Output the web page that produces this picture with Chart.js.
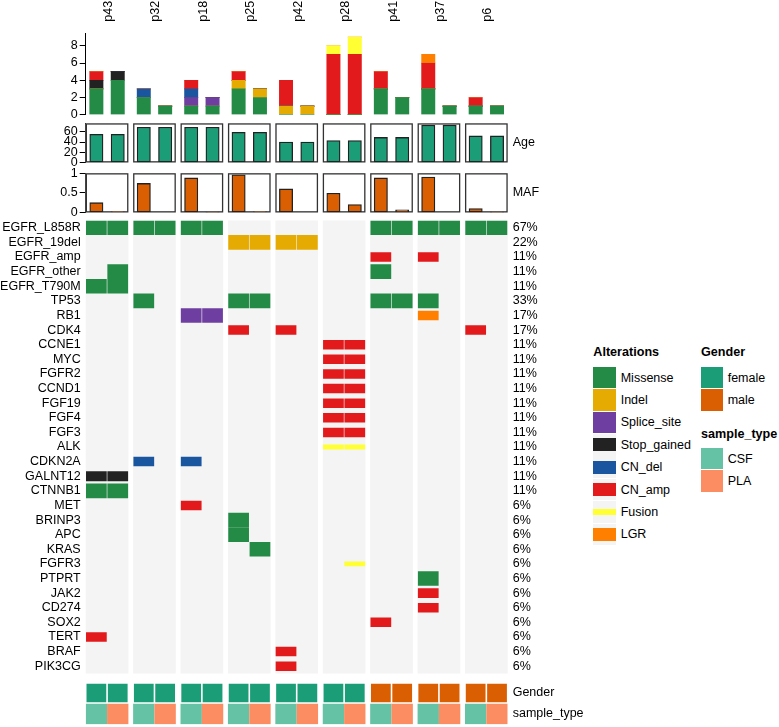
<!DOCTYPE html>
<html>
<head>
<meta charset="utf-8">
<script src="https://cdn.jsdelivr.net/npm/chart.js@4.4.1/dist/chart.umd.min.js"></script>
<style>
  html, body { margin: 0; padding: 0; background: #fff; overflow: hidden; }
  #wrap { position: relative; width: 779px; height: 727px; overflow: hidden;
          font-family: "Liberation Sans", Arial, sans-serif; color: #000; }
  canvas.panel { position: absolute; left: 0; }
  .lg { position: absolute; white-space: nowrap; line-height: 16px; font-size: 12.5px; }
  .lg.title { font-weight: bold; font-size: 12.6px; }
  .sw { position: absolute; }
</style>
</head>
<body>
<div id="wrap">
  <canvas id="countChart" class="panel" width="590" height="126" style="top:0px"></canvas>
  <canvas id="ageChart" class="panel" width="590" height="65" style="top:110px"></canvas>
  <canvas id="mafChart" class="panel" width="590" height="65" style="top:160px"></canvas>
  <canvas id="oncoChart" class="panel" width="590" height="478" style="top:208.4px"></canvas>
  <canvas id="annoChart" class="panel" width="590" height="67" style="top:669.5px"></canvas>
  <div id="legend"></div>
</div>
<script>
// ---- data ----
const patients = ["p43", "p32", "p18", "p25", "p42", "p28", "p41", "p37", "p6"];
const sampleTypes = ["CSF", "PLA"];
const age = [55, 69, 69, 59, 40, 43, 49, 73, 52];
const gender = ["female", "female", "female", "female", "female", "female", "male", "male", "male"];
// one value per sample: p43 CSF, p43 PLA, p32 CSF, ...
const maf = [0.25, 0.02, 0.74, 0, 0.88, 0.01, 0.96, 0.02, 0.6, 0, 0.49, 0.2, 0.88, 0.07, 0.9, 0, 0.1, 0.01];

const genes = ["EGFR_L858R", "EGFR_19del", "EGFR_amp", "EGFR_other", "EGFR_T790M", "TP53", "RB1", "CDK4",
  "CCNE1", "MYC", "FGFR2", "CCND1", "FGF19", "FGF4", "FGF3", "ALK", "CDKN2A", "GALNT12", "CTNNB1",
  "MET", "BRINP3", "APC", "KRAS", "FGFR3", "PTPRT", "JAK2", "CD274", "SOX2", "TERT", "BRAF", "PIK3CG"];
const genePct = ["67%", "22%", "11%", "11%", "11%", "33%", "17%", "17%",
  "11%", "11%", "11%", "11%", "11%", "11%", "11%", "11%", "11%", "11%", "11%",
  "6%", "6%", "6%", "6%", "6%", "6%", "6%", "6%", "6%", "6%", "6%", "6%"];

const altTypes = ["Missense", "Indel", "Splice_site", "Stop_gained", "CN_del", "CN_amp", "Fusion", "LGR"];
const altCodes = ["M", "I", "S", "X", "D", "A", "F", "L"];
// one string per gene, one character per sample (same order as maf)
const altMatrix = [
  "MMMMMM......MMMMMM",
  "......IIII........",
  "............A.A...",
  ".M..........M.....",
  "MM................",
  "..M...MM....MMM...",
  "....SS........L...",
  "......A.A.......A.",
  "..........AA......",
  "..........AA......",
  "..........AA......",
  "..........AA......",
  "..........AA......",
  "..........AA......",
  "..........AA......",
  "..........FF......",
  "..D.D.............",
  "XX................",
  "MM................",
  "....A.............",
  "......M...........",
  "......M...........",
  ".......M..........",
  "...........F......",
  "..............M...",
  "..............A...",
  "..............A...",
  "............A.....",
  "A.................",
  "........A.........",
  "........A........."
];

const countTicks = [0, 2, 4, 6, 8];
const ageTicks = [0, 20, 40, 60];
const mafTicks = [0, 0.5, 1];

// ---- styles / layout ----
const altColors = {
  Missense: "#238B45", Indel: "#E6AB02", Splice_site: "#6E3FA0", Stop_gained: "#222222",
  CN_del: "#1A55A0", CN_amp: "#E31A1C", Fusion: "#FFFF33", LGR: "#FF7F00"
};
const altHeight = { Missense: 1, Indel: 1, Splice_site: 1, Stop_gained: 0.62, CN_del: 0.6, CN_amp: 0.6, Fusion: 0.28, LGR: 0.6 };
const genderColors = { female: "#1B9E77", male: "#D95F02" };
const sampleColors = { CSF: "#66C2A5", PLA: "#FC8D62" };
const panelBg = "#F4F4F4";

const GAP = 0.22;
const NCOL = patients.length * 2;
const X_MAX = NCOL + (patients.length - 1) * GAP;
const CANVAS_W = 590, PLOT_R = 507.7;
const LEFT_W = 85.7, RIGHT_W = CANVAS_W - PLOT_R;
const ROW_H = 14.76;
const FONT = '"Liberation Sans", Arial, sans-serif';

Chart.defaults.font.family = FONT;
Chart.defaults.font.size = 12.5;
Chart.defaults.color = "#000";
Chart.defaults.animation = false;
Chart.defaults.plugins.legend.display = false;
Chart.defaults.plugins.tooltip.enabled = false;

const colStart = (c) => Math.floor(c / 2) * (2 + GAP) + (c % 2);
const cols = Array.from({ length: NCOL }, (_, c) => c);

// rectangles behind each patient group
const groupPanels = {
  id: "groupPanels",
  beforeDatasetsDraw(chart, args, opts) {
    const { ctx, chartArea, scales: { x } } = chart;
    ctx.save();
    patients.forEach((p, g) => {
      const x0 = x.getPixelForValue(colStart(2 * g));
      const x1 = x.getPixelForValue(colStart(2 * g) + 2);
      const h = chartArea.bottom - chartArea.top;
      if (opts.fill) {
        ctx.fillStyle = opts.fill;
        ctx.fillRect(x0, chartArea.top, x1 - x0, h);
      }
      if (opts.stroke) {
        const lw = opts.lineWidth || 1;
        ctx.strokeStyle = opts.stroke;
        ctx.lineWidth = lw;
        ctx.strokeRect(x0 + lw / 2, chartArea.top + lw / 2, x1 - x0 - lw, h - lw);
      }
    });
    ctx.restore();
  }
};

// rotated patient names above the count barplot
const patientLabels = {
  id: "patientLabels",
  afterDraw(chart) {
    const { ctx, scales: { x } } = chart;
    ctx.save();
    ctx.font = "12.5px " + FONT;
    ctx.fillStyle = "#000";
    ctx.textAlign = "left";
    ctx.textBaseline = "alphabetic";
    patients.forEach((p, g) => {
      const cx = x.getPixelForValue(colStart(2 * g) + 1);
      ctx.save();
      ctx.translate(cx + 5, 21.7);
      ctx.rotate(-Math.PI / 2);
      ctx.fillText(p, 0, 0);
      ctx.restore();
    });
    ctx.restore();
  }
};

const fixWidth = (w) => (scale) => { scale.width = w; };
const setTicks = (vals) => (scale) => { scale.ticks = vals.map((v) => ({ value: v })); };

function leftValueAxis(max, ticks) {
  return {
    type: "linear", position: "left", min: 0, max: max,
    afterFit: fixWidth(LEFT_W),
    afterBuildTicks: setTicks(ticks),
    ticks: { autoSkip: false, padding: 2, callback: (v) => String(v) },
    grid: { drawOnChartArea: false, drawTicks: true, tickLength: 6, color: "#000", lineWidth: 1 },
    border: { display: true, color: "#000", width: 1 }
  };
}
function rightLabelAxis(labels) {
  return {
    type: "category", position: "right", labels: labels, offset: true,
    afterFit: fixWidth(RIGHT_W),
    ticks: { autoSkip: false, padding: 5 },
    grid: { display: false, drawTicks: false },
    border: { display: false }
  };
}
const hiddenX = { type: "linear", min: 0, max: X_MAX, offset: false, display: false };

// ---- counts per sample, stacked by alteration type ----
const counts = altCodes.map((code) =>
  cols.map((c) => altMatrix.filter((row) => row[c] === code).length));

new Chart(document.getElementById("countChart"), {
  type: "bar",
  data: {
    datasets: altTypes.map((t, i) => ({
      label: t,
      data: cols.map((c) => ({ x: colStart(c) + 0.5, y: counts[i][c] })),
      backgroundColor: altColors[t],
      barThickness: 13.3
    }))
  },
  options: {
    responsive: false,
    layout: { padding: { top: 33.3, bottom: 11.3, left: 0, right: RIGHT_W } },
    scales: {
      x: Object.assign({}, hiddenX, { stacked: true }),
      y: Object.assign(leftValueAxis(9.45, countTicks), { stacked: true })
    }
  },
  plugins: [patientLabels]
});

// ---- age ----
new Chart(document.getElementById("ageChart"), {
  type: "bar",
  data: {
    datasets: [{
      label: "Age",
      data: cols.map((c) => ({ x: colStart(c) + 0.5, y: age[Math.floor(c / 2)] })),
      backgroundColor: "#1B9E77",
      borderColor: "#222",
      borderWidth: 1.3,
      borderSkipped: false,
      barThickness: 13.3
    }]
  },
  options: {
    responsive: false,
    layout: { padding: { top: 13.3, bottom: 10.7, left: 0, right: 0 } },
    scales: { x: hiddenX, y: leftValueAxis(76.65, ageTicks), yr: rightLabelAxis(["Age"]) },
    plugins: { groupPanels: { fill: "#fff", stroke: "#333", lineWidth: 1.3 } }
  },
  plugins: [groupPanels]
});

// ---- MAF ----
new Chart(document.getElementById("mafChart"), {
  type: "bar",
  data: {
    datasets: [{
      label: "MAF",
      data: cols.map((c) => ({ x: colStart(c) + 0.5, y: maf[c] })),
      backgroundColor: "#D95F02",
      borderColor: "#222",
      borderWidth: 1.3,
      borderSkipped: false,
      barThickness: 13.3
    }]
  },
  options: {
    responsive: false,
    layout: { padding: { top: 13.2, bottom: 11.1, left: 0, right: 0 } },
    scales: { x: hiddenX, y: leftValueAxis(1, mafTicks), yr: rightLabelAxis(["MAF"]) },
    plugins: { groupPanels: { fill: "#fff", stroke: "#333", lineWidth: 1.3 } }
  },
  plugins: [groupPanels]
});

// ---- oncoprint matrix ----
const cellData = (code) => {
  const out = [];
  altMatrix.forEach((row, gi) => {
    cols.forEach((c) => {
      if (row[c] === code) out.push({ y: genes[gi], x: [colStart(c) + 0.03, colStart(c) + 0.97] });
    });
  });
  return out;
};

new Chart(document.getElementById("oncoChart"), {
  type: "bar",
  data: {
    labels: genes,
    datasets: altTypes.map((t, i) => ({
      label: t,
      data: cellData(altCodes[i]),
      backgroundColor: altColors[t],
      barThickness: altHeight[t] === 1 ? ROW_H - 0.8 : ROW_H * altHeight[t],
      grouped: false
    }))
  },
  options: {
    indexAxis: "y",
    responsive: false,
    layout: { padding: { top: 10, bottom: 10.1, left: 0, right: 0 } },
    scales: {
      x: hiddenX,
      y: {
        type: "category", position: "left",
        afterFit: fixWidth(LEFT_W),
        ticks: { autoSkip: false, padding: 5 },
        grid: { display: false, drawTicks: false },
        border: { display: false }
      },
      yr: rightLabelAxis(genePct)
    },
    plugins: { groupPanels: { fill: panelBg } }
  },
  plugins: [groupPanels]
});

// ---- bottom annotations ----
new Chart(document.getElementById("annoChart"), {
  type: "bar",
  data: {
    labels: ["Gender", "sample_type"],
    datasets: [
      {
        label: "Gender",
        data: cols.map((c) => ({ y: "Gender", x: [colStart(c), colStart(c) + 1] })),
        backgroundColor: cols.map((c) => genderColors[gender[Math.floor(c / 2)]]),
        borderColor: "rgba(255,255,255,0.3)",
        borderWidth: 0.8,
        borderSkipped: false,
        barPercentage: 0.965, categoryPercentage: 1, grouped: false
      },
      {
        label: "sample_type",
        data: cols.map((c) => ({ y: "sample_type", x: [colStart(c), colStart(c) + 1] })),
        backgroundColor: cols.map((c) => sampleColors[sampleTypes[c % 2]]),
        barPercentage: 0.965, categoryPercentage: 1, grouped: false
      }
    ]
  },
  options: {
    indexAxis: "y",
    responsive: false,
    layout: { padding: { top: 10, bottom: 10, left: LEFT_W, right: 0 } },
    scales: {
      x: hiddenX,
      y: { type: "category", display: false },
      yr: rightLabelAxis(["Gender", "sample_type"])
    }
  }
});

// ---- legends ----
const legend = document.getElementById("legend");
function addText(txt, x, yc, cls) {
  const d = document.createElement("div");
  d.className = "lg" + (cls ? " " + cls : "");
  d.textContent = txt;
  d.style.left = x + "px";
  d.style.top = (yc - 8) + "px";
  legend.appendChild(d);
}
function addSwatch(x, y, w, h, color, frac) {
  const bg = document.createElement("div");
  bg.className = "sw";
  bg.style.cssText = `left:${x}px;top:${y}px;width:${w}px;height:${h}px;background:${frac < 1 ? panelBg : color}`;
  legend.appendChild(bg);
  if (frac < 1) {
    const ih = h * frac;
    const fg = document.createElement("div");
    fg.className = "sw";
    fg.style.cssText = `left:${x}px;top:${y + (h - ih) / 2}px;width:${w}px;height:${ih}px;background:${color}`;
    legend.appendChild(fg);
  }
}
const LG_STEP = 22.4, SW_H = 21.7, SW_W = 22.4;
addText("Alterations", 593.3, 352.3, "title");
altTypes.forEach((t, i) => {
  const top = 366.7 + i * LG_STEP;
  addSwatch(593.3, top, SW_W, SW_H, altColors[t], altHeight[t]);
  addText(t, 620.7, top + SW_H / 2, "");
});
addText("Gender", 701, 352.3, "title");
Object.keys(genderColors).forEach((g, i) => {
  const top = 366.7 + i * LG_STEP;
  addSwatch(701, top, 21.7, SW_H, genderColors[g], 1);
  addText(g, 727.7, top + SW_H / 2, "");
});
addText("sample_type", 701, 434.3, "title");
sampleTypes.forEach((s, i) => {
  const top = 447.7 + i * LG_STEP;
  addSwatch(701, top, 21.7, SW_H, sampleColors[s], 1);
  addText(s, 727.7, top + SW_H / 2, "");
});
</script>
</body>
</html>
